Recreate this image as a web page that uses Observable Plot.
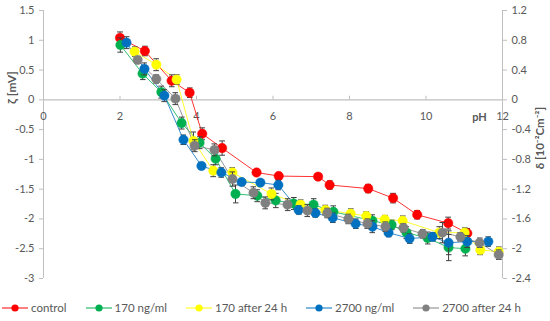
<!DOCTYPE html>
<html><head><meta charset="utf-8">
<script src="https://cdn.jsdelivr.net/npm/d3@7"></script>
<script src="https://cdn.jsdelivr.net/npm/@observablehq/plot@0.6"></script>
<style>
body{margin:0;background:#fff;font-family:Lato,"Open Sans",sans-serif;}
#legend{display:flex;justify-content:flex-start;align-items:center;gap:19px;height:31px;padding-top:2px;padding-left:2px;font-size:11.5px;color:#595959;}
.item{display:flex;align-items:center;gap:3px;}
</style></head>
<body><div id="chart"></div><div id="legend"></div>
<script>
const seriesNames = ["control","170 ng/ml","170 after 24 h","2700 ng/ml","2700 after 24 h"];
const seriesColors = ["#ff0000","#00b050","#ffff00","#0070c0","#808080"];

const controlPH = [2.0,2.65,3.35,3.82,4.15,4.67,5.57,6.15,7.18,7.48,8.49,9.14,9.77,10.58,11.08];
const controlZeta = [1.04,0.82,0.32,0.12,-0.57,-0.81,-1.22,-1.28,-1.29,-1.43,-1.49,-1.65,-1.93,-2.07,-2.24];
const controlErr = [0.1,0.08,0.1,0.08,0.1,0.12,0.05,0.05,0.05,0.07,0.07,0.08,0.07,0.1,0.08];

const g170PH = [2.01,2.59,3.08,3.61,4.08,4.5,5.02,5.59,6.07,6.54,7.06,7.58,8.6,9.1,9.49,10.04,10.59,11.03];
const g170Zeta = [0.92,0.44,0.13,-0.39,-0.72,-0.99,-1.58,-1.61,-1.69,-1.74,-1.76,-1.88,-2.03,-2.1,-2.23,-2.32,-2.48,-2.5];
const g170Err = [0.12,0.1,0.1,0.1,0.1,0.1,0.15,0.1,0.12,0.1,0.1,0.1,0.1,0.08,0.1,0.1,0.22,0.12];

const y170PH = [2.38,2.95,3.48,3.92,4.44,4.94,5.96,6.72,7.37,8.03,8.44,8.92,9.39,10.35,11.01,11.42,11.9];
const y170Zeta = [0.81,0.59,0.34,-0.69,-1.19,-1.22,-1.58,-1.76,-1.85,-1.91,-1.95,-2.01,-2.03,-2.23,-2.23,-2.52,-2.55];
const y170Err = [0.08,0.1,0.08,0.15,0.1,0.08,0.1,0.08,0.08,0.08,0.07,0.07,0.08,0.1,0.08,0.08,0.08];

const b2700PH = [2.17,2.64,3.16,3.66,4.13,4.65,5.18,5.67,6.14,6.67,7.11,7.56,8.16,8.6,9.02,9.57,10.17,10.59,11.08,11.63];
const b2700Zeta = [0.96,0.52,0.07,-0.67,-1.11,-1.22,-1.38,-1.39,-1.43,-1.85,-1.9,-1.98,-2.08,-2.13,-2.23,-2.33,-2.3,-2.4,-2.38,-2.38];
const b2700Err = [0.1,0.1,0.1,0.08,0.05,0.08,0.05,0.05,0.08,0.07,0.07,0.08,0.08,0.1,0.07,0.08,0.07,0.2,0.1,0.08];

const gr2700PH = [2.46,2.95,3.45,3.95,4.47,4.94,5.49,5.8,6.38,6.9,7.42,7.97,8.47,8.94,9.41,9.91,10.43,10.9,11.4,11.9];
const gr2700Zeta = [0.67,0.35,0.02,-0.77,-0.84,-1.33,-1.56,-1.73,-1.76,-1.86,-1.9,-2.0,-2.08,-2.13,-2.15,-2.25,-2.23,-2.3,-2.4,-2.6];
const gr2700Err = [0.05,0.07,0.1,0.1,0.1,0.12,0.1,0.1,0.1,0.1,0.08,0.08,0.08,0.08,0.07,0.07,0.17,0.07,0.08,0.08];

const xTicks = [0,2,4,6,8,10,12];
const leftTicks = [1.5,1,0.5,0,-0.5,-1,-1.5,-2,-2.5,-3];
const rightTicks = [1.2,0.8,0.4,0,-0.4,-0.8,-1.2,-1.6,-2,-2.4];
const rightFactor = 0.8; // δ = 0.8 * ζ (axis alignment)

const raw = [
  [controlPH, controlZeta, controlErr],
  [g170PH, g170Zeta, g170Err],
  [y170PH, y170Zeta, y170Err],
  [b2700PH, b2700Zeta, b2700Err],
  [gr2700PH, gr2700Zeta, gr2700Err]
];
const series = raw.map(([ph, z, e], k) => ph.map((p, i) => ({s: seriesNames[k], pH: p, z: z[i], lo: z[i]-e[i], hi: z[i]+e[i]})));

const textColor = "#595959";
const axisColor = "#bfbfbf";
const font = "Lato, 'Open Sans', sans-serif";

const marks = [
  Plot.ruleY([0], {stroke: axisColor, strokeWidth: 1.2}),
  Plot.ruleX([0], {stroke: axisColor, strokeWidth: 1}),
  Plot.ruleX([12], {stroke: axisColor, strokeWidth: 1}),
  Plot.ruleX(xTicks.slice(1), {x: d => d, y1: 0, y2: 0.06, stroke: axisColor}),
  Plot.axisY(leftTicks, {anchor: "left", tickSize: 4, tickPadding: 5, stroke: axisColor, color: textColor, fontSize: 11, tickFormat: d => String(d)}),
  Plot.axisY(rightTicks.map(v => v / rightFactor), {anchor: "right", tickSize: 4, tickPadding: 5, stroke: axisColor, color: textColor, fontSize: 11, tickFormat: d => String(Math.round(d * rightFactor * 10) / 10)}),
  Plot.text(xTicks, {x: d => d, y: 0, dy: 17, text: d => String(d), fill: textColor, fontSize: 11}),
  Plot.text(["pH"], {x: 11.4, y: 0, dy: 18, text: d => d, fill: textColor, fontSize: 11, fontWeight: "bold"}),
  Plot.text(["ζ [mV]"], {frameAnchor: "left", y: -0.07, dx: -31, rotate: -90, text: d => d, fill: textColor, fontSize: 12, fontWeight: "bold"}),
  Plot.text(["δ [10⁻²Cm⁻²]"], {frameAnchor: "right", y: -0.12, dx: 38, rotate: -90, text: d => d, fill: textColor, fontSize: 11.5, fontWeight: "bold"})
];
series.forEach((data, k) => {
  marks.push(Plot.line(data, {x: "pH", y: "z", stroke: seriesColors[k], strokeWidth: 1, strokeOpacity: 0.8}));
});
series.forEach((data, k) => {
  marks.push(Plot.link(data, {x1: "pH", x2: "pH", y1: "lo", y2: "hi", stroke: "#404040", strokeWidth: 1, markerStart: "tick", markerEnd: "tick"}));
  marks.push(Plot.dot(data, {x: "pH", y: "z", r: 4.7, fill: seriesColors[k], stroke: seriesColors[k], strokeWidth: 0.5}));
});

const chart = Plot.plot({
  width: 550, height: 290,
  marginLeft: 43, marginRight: 48, marginTop: 10, marginBottom: 12,
  style: {fontFamily: font, background: "#fff", overflow: "visible"},
  x: {domain: [0, 12], axis: null},
  y: {domain: [-3, 1.5], axis: null},
  marks
});
document.getElementById("chart").appendChild(chart);

const legend = document.getElementById("legend");
seriesNames.forEach((name, k) => {
  const item = document.createElement("div");
  item.className = "item";
  item.innerHTML = `<svg width="26" height="10"><line x1="0" y1="5" x2="26" y2="5" stroke="${seriesColors[k]}" stroke-width="1"/><circle cx="13" cy="5" r="3.6" fill="${seriesColors[k]}"/></svg><span>${name}</span>`;
  legend.appendChild(item);
});
</script></body></html>
